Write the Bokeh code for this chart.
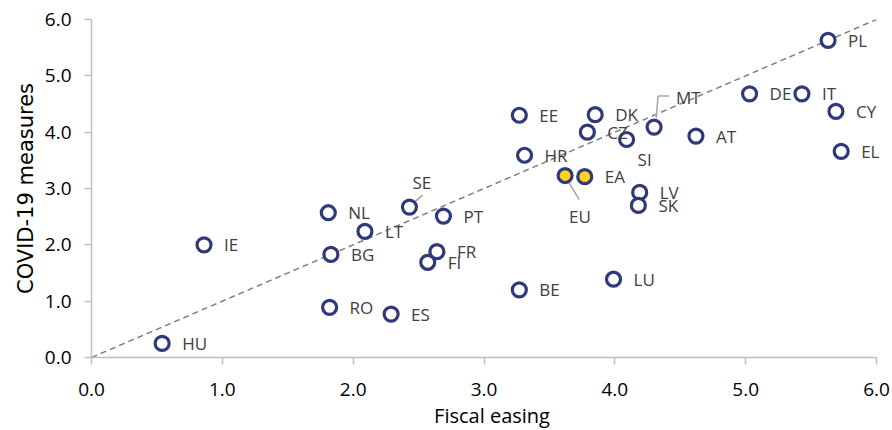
from bokeh.plotting import figure
from bokeh.models import ColumnDataSource, LabelSet, Title, FixedTicker, PrintfTickFormatter, Range1d
from bokeh.core.properties import value
from bokeh.embed import file_html
from bokeh.resources import INLINE

# Member states: fiscal easing vs. COVID-19 measures (% of GDP)
countries = ["PL", "DE", "IT", "CY", "EL", "AT", "MT", "DK", "EE", "CZ", "SI", "HR",
             "LV", "SK", "SE", "PT", "NL", "LT", "IE", "BG", "FR", "FI", "LU", "BE",
             "RO", "ES", "HU"]
fiscal_easing = [5.63, 5.03, 5.43, 5.69, 5.73, 4.62, 4.30, 3.85, 3.27, 3.79, 4.09, 3.31,
                 4.19, 4.18, 2.43, 2.69, 1.81, 2.09, 0.86, 1.83, 2.64, 2.57, 3.99, 3.27,
                 1.82, 2.29, 0.54]
covid_measures = [5.63, 4.68, 4.68, 4.37, 3.66, 3.93, 4.09, 4.31, 4.30, 4.00, 3.87, 3.59,
                  2.93, 2.70, 2.67, 2.51, 2.57, 2.24, 2.00, 1.83, 1.88, 1.69, 1.39, 1.20,
                  0.89, 0.77, 0.25]

# Aggregates
aggregates = ["EU", "EA"]
agg_fiscal_easing = [3.62, 3.77]
agg_covid_measures = [3.23, 3.21]

# Axis ticks
tick_values = [0, 1, 2, 3, 4, 5, 6]

# Layout (screen units)
W, H = 892, 430
BORDER_L, BORDER_T, BORDER_B = 91, 19, 73
AXIS_W = 785            # pixel length of the 0..6 x axis
FRAME_H = H - BORDER_T - BORDER_B
X_MAX, Y_MAX = 6.0, 6.0
PX_X = AXIS_W / X_MAX
PX_Y = FRAME_H / Y_MAX
# the frame runs to the right edge so point labels near x=6 are not cut off
X_END = (W - BORDER_L) / PX_X

NAVY = "#2E3A7C"
GOLD = "#FFD21F"
LABEL_COLOR = "#404040"
AXIS_COLOR = "#BFBFBF"
FONT = "Open Sans"

DEFAULT_OFFSET = (20, 0)
label_offsets = {"SE": (3, 25), "MT": (22, 30), "SI": (11, -20), "EU": (4, -41)}
# leader lines, as screen offsets from the marker centre
leaders = {
    "SE": [(2, 2), (13, 12)],
    "MT": [(2, 9), (4, 31), (15, 31)],
    "EU": [(1, -2), (14, -24)],
}

p = figure(width=W, height=H, x_range=Range1d(0, X_END), y_range=Range1d(0, Y_MAX),
           output_backend="svg", toolbar_location=None,
           min_border_left=BORDER_L, min_border_right=0,
           min_border_top=BORDER_T, min_border_bottom=BORDER_B)
p.outline_line_color = None
p.xgrid.visible = False
p.ygrid.visible = False
p.background_fill_color = "white"
p.border_fill_color = "white"

for ax in (p.xaxis[0], p.yaxis[0]):
    ax.ticker = FixedTicker(ticks=tick_values)
    ax.formatter = PrintfTickFormatter(format="%.1f")
    ax.axis_line_color = AXIS_COLOR
    ax.axis_line_width = 1.5
    ax.major_tick_line_color = AXIS_COLOR
    ax.major_tick_line_width = 1.5
    ax.major_tick_in = 0
    ax.major_tick_out = 7
    ax.minor_tick_line_color = None
    ax.major_label_text_font = FONT
    ax.major_label_text_font_size = "19px"
    ax.major_label_text_color = "#000000"
p.xaxis.bounds = (0, X_MAX)
p.xaxis.major_label_standoff = 18
p.yaxis.major_label_standoff = 13

# axis titles
p.add_layout(Title(text="Fiscal easing", align="center", offset=-7, standoff=3,
                   text_font=FONT, text_font_size="20px", text_font_style="normal",
                   text_color="#000000"), "below")
p.add_layout(Title(text="COVID-19 measures", align="center", offset=23, standoff=8,
                   text_font="DejaVu Sans", text_font_size="21px", text_font_style="normal",
                   text_color="#000000"), "left")

# 45-degree reference line
p.line(x=[0, X_MAX], y=[0, Y_MAX], line_color="#808080", line_width=1.5, line_dash="6 4")

# leader lines
names_all = countries + aggregates
xs_all = fiscal_easing + agg_fiscal_easing
ys_all = covid_measures + agg_covid_measures
lx, ly = [], []
for name, pts in leaders.items():
    i = names_all.index(name)
    lx.append([xs_all[i] + dx / PX_X for dx, dy in pts])
    ly.append([ys_all[i] + dy / PX_Y for dx, dy in pts])
p.multi_line(xs=lx, ys=ly, line_color="#A6A6A6", line_width=1.5)

src_c = ColumnDataSource(dict(x=fiscal_easing, y=covid_measures, name=countries))
src_a = ColumnDataSource(dict(x=agg_fiscal_easing, y=agg_covid_measures, name=aggregates))

p.scatter("x", "y", source=src_c, size=14, fill_color="white", line_color=NAVY, line_width=3.2)
p.scatter("x", "y", source=src_a, size=14, fill_color=GOLD, line_color=NAVY, line_width=3.2)

lab = ColumnDataSource(dict(
    x=xs_all, y=ys_all, name=names_all,
    xo=[label_offsets.get(n, DEFAULT_OFFSET)[0] for n in names_all],
    yo=[label_offsets.get(n, DEFAULT_OFFSET)[1] for n in names_all],
))
p.add_layout(LabelSet(x="x", y="y", text="name", source=lab, x_offset="xo", y_offset="yo",
                      text_font=value(FONT), text_font_size="17px", text_color=LABEL_COLOR,
                      text_align="left", text_baseline="middle"))

open("out.html", "w").write(file_html(p, INLINE))
